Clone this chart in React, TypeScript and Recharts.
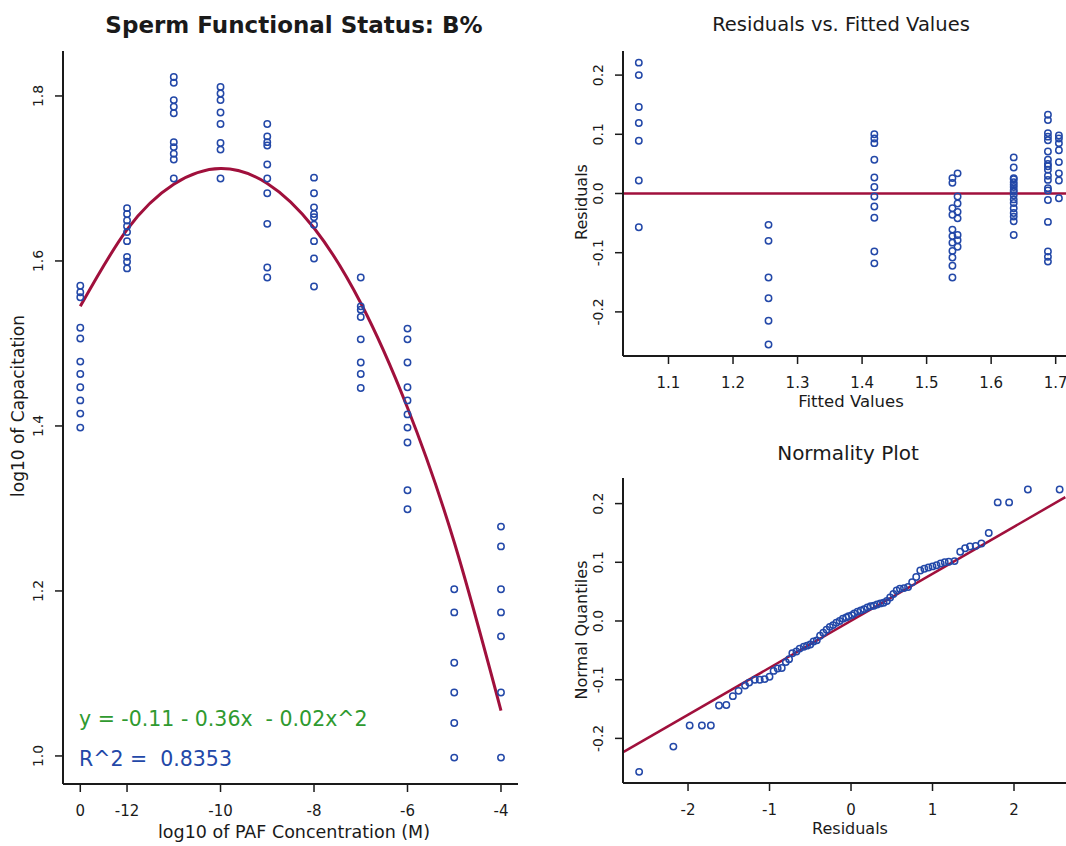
import React from "react";
import {
  ComposedChart,
  ScatterChart,
  Scatter,
  Line,
  XAxis,
  YAxis,
  ReferenceLine,
} from "recharts";

// left panel: log10 PAF level (-13 stands for the "0" control column)
const PAF_LEVELS = [-13, -12, -11, -10, -9, -8, -7, -6, -5, -4];
const PAF_TICKS = [-13, -12, -10, -8, -6, -4];

const CAP_CTRL = [1.57, 1.562, 1.556, 1.519, 1.506, 1.478, 1.463, 1.447, 1.431, 1.415, 1.398];
const CAP_M12 = [1.664, 1.657, 1.649, 1.642, 1.635, 1.624, 1.605, 1.599, 1.591];
const CAP_M11 = [1.823, 1.816, 1.795, 1.787, 1.779, 1.744, 1.738, 1.73, 1.723, 1.7];
const CAP_M10 = [1.811, 1.803, 1.795, 1.78, 1.766, 1.743, 1.735, 1.7];
const CAP_M9 = [1.766, 1.751, 1.744, 1.74, 1.717, 1.7, 1.682, 1.645, 1.592, 1.58];
const CAP_M8 = [1.701, 1.682, 1.665, 1.657, 1.653, 1.644, 1.624, 1.603, 1.569];
const CAP_M7 = [1.58, 1.545, 1.541, 1.532, 1.505, 1.477, 1.463, 1.446];
const CAP_M6 = [1.518, 1.505, 1.477, 1.447, 1.431, 1.414, 1.398, 1.38, 1.322, 1.299];
const CAP_M5 = [1.202, 1.174, 1.113, 1.077, 1.04, 0.998];
const CAP_M4 = [1.278, 1.254, 1.202, 1.174, 1.145, 1.077, 0.998];
const CAP_COLUMNS = [CAP_CTRL, CAP_M12, CAP_M11, CAP_M10, CAP_M9, CAP_M8, CAP_M7, CAP_M6, CAP_M5, CAP_M4];

// fitted quadratic, read at each level
const CURVE_Y = [1.545, 1.638, 1.693, 1.712, 1.694, 1.64, 1.549, 1.422, 1.259, 1.055];

// residuals vs fitted
const RES_FITTED = [1.054, 1.255, 1.419, 1.54, 1.548, 1.635, 1.688, 1.705];
const RES_A = [0.221, 0.2, 0.146, 0.119, 0.089, 0.022, -0.057];
const RES_B = [-0.053, -0.08, -0.142, -0.177, -0.215, -0.255];
const RES_C = [0.1, 0.093, 0.085, 0.057, 0.027, 0.011, -0.005, -0.022, -0.041, -0.098, -0.118];
const RES_D = [0.026, 0.018, -0.025, -0.036, -0.061, -0.072, -0.083, -0.097, -0.108, -0.122, -0.142];
const RES_E = [0.034, -0.005, -0.017, -0.031, -0.042, -0.07, -0.079, -0.09];
const RES_F = [0.061, 0.044, 0.026, 0.024, 0.019, 0.015, 0.011, 0.006, 0.003, -0.003, -0.01, -0.016, -0.025, -0.033, -0.039, -0.047, -0.07];
const RES_G = [0.133, 0.124, 0.102, 0.096, 0.09, 0.071, 0.057, 0.05, 0.046, 0.04, 0.03, 0.023, 0.009, 0.005, -0.011, -0.048, -0.098, -0.107, -0.115];
const RES_H = [0.098, 0.093, 0.085, 0.073, 0.053, 0.034, 0.022, -0.008];
const RES_COLUMNS = [RES_A, RES_B, RES_C, RES_D, RES_E, RES_F, RES_G, RES_H];
const RES_X_TICKS = [1.1, 1.2, 1.3, 1.4, 1.5, 1.6, 1.7];
const RES_Y_TICKS = [-0.2, -0.1, 0, 0.1, 0.2];

// normality plot
const QQ_Q = [-2.6, -2.18, -1.98, -1.83, -1.72, -1.62, -1.53, -1.45, -1.38, -1.3, -1.25, -1.18, -1.12, -1.06, -1.0, -0.95, -0.9, -0.85, -0.8, -0.76, -0.72, -0.67, -0.63, -0.58, -0.54, -0.5, -0.46, -0.42, -0.38, -0.34, -0.3, -0.26, -0.22, -0.18, -0.14, -0.1, -0.06, -0.03, 0.01, 0.04, 0.08, 0.12, 0.16, 0.2, 0.24, 0.28, 0.32, 0.36, 0.4, 0.44, 0.48, 0.52, 0.56, 0.6, 0.65, 0.7, 0.75, 0.8, 0.85, 0.9, 0.95, 1.0, 1.05, 1.1, 1.15, 1.2, 1.27, 1.34, 1.4, 1.46, 1.53, 1.6, 1.69, 1.8, 1.94, 2.17, 2.56];
const QQ_R = [-0.257, -0.214, -0.178, -0.178, -0.178, -0.144, -0.143, -0.128, -0.119, -0.11, -0.105, -0.1, -0.1, -0.099, -0.095, -0.085, -0.081, -0.08, -0.07, -0.065, -0.055, -0.052, -0.047, -0.044, -0.042, -0.04, -0.035, -0.033, -0.025, -0.02, -0.015, -0.01, -0.007, -0.003, 0.0, 0.004, 0.006, 0.008, 0.01, 0.013, 0.016, 0.018, 0.02, 0.023, 0.025, 0.026, 0.028, 0.03, 0.031, 0.034, 0.04, 0.046, 0.052, 0.055, 0.056, 0.058, 0.066, 0.075, 0.086, 0.089, 0.091, 0.093, 0.095, 0.098, 0.1, 0.101, 0.102, 0.118, 0.124, 0.127, 0.128, 0.132, 0.15, 0.202, 0.202, 0.224, 0.224];
const QQ_LINE_X = [-2.79, 2.63];
const QQ_LINE_Y = [-0.223, 0.211];
const QQ_X_TICKS = [-2, -1, 0, 1, 2];

const BLUE = "#2348a8";
const RED = "#a0103c";
const GREEN = "#2f9a2f";
const INK = "#1a1a1a";
const FONT = "'DejaVu Sans', Verdana, sans-serif";

const leftPoints = PAF_LEVELS.flatMap((x, i) => CAP_COLUMNS[i].map((y) => ({ x, y })));
const curve = PAF_LEVELS.map((x, i) => ({ x, y: CURVE_Y[i] }));
const resPoints = RES_FITTED.flatMap((x, i) => RES_COLUMNS[i].map((y) => ({ x, y })));
const qqPoints = QQ_Q.map((x, i) => ({ x, y: QQ_R[i] }));

const Ring = (p: any) => (
  <circle cx={p.cx} cy={p.cy} r={3.2} fill="none" stroke={BLUE} strokeWidth={1.5} />
);

const makeYTick = (fmt: (v: number) => string) => (p: any) => {
  const x = p.x - 10;
  return (
    <text x={x} y={p.y} transform={`rotate(-90 ${x} ${p.y})`} textAnchor="middle" fontSize={14} fontFamily={FONT} fill={INK}>
      {fmt(p.payload.value)}
    </text>
  );
};

const makeXTick = (fmt: (v: number) => string) => (p: any) => (
  <text x={p.x} y={p.y} dy={22} textAnchor="middle" fontSize={15} fontFamily={FONT} fill={INK}>
    {fmt(p.payload.value)}
  </text>
);

const fmt1 = (v: number) => v.toFixed(1);
const fmtPaf = (v: number) => (v === -13 ? "0" : String(v));
const fmtInt = (v: number) => String(v);

const axisLine = { stroke: INK, strokeWidth: 2 };
const tickLine = { stroke: INK, strokeWidth: 1.5 };

const abs = (left: number, top: number, extra: React.CSSProperties = {}): React.CSSProperties => ({
  position: "absolute",
  left,
  top,
  transform: "translate(-50%, -50%)",
  whiteSpace: "nowrap",
  fontFamily: FONT,
  color: INK,
  lineHeight: 1,
  ...extra,
});

const rot = "translate(-50%, -50%) rotate(-90deg)";

export default function App() {
  return (
    <div style={{ position: "relative", width: 1066, height: 846, overflow: "hidden", background: "#fff" }}>
      <style>{`body{margin:0}`}</style>

      {/* left: capacitation vs PAF */}
      <div style={{ position: "absolute", left: 0, top: 0 }}>
        <ComposedChart width={540} height={846} margin={{ top: 51, right: 22, bottom: 0, left: 0 }}>
          <XAxis
            dataKey="x"
            type="number"
            domain={[-13.37, -3.636]}
            ticks={PAF_TICKS}
            interval={0}
            height={62}
            tickSize={8}
            axisLine={axisLine}
            tickLine={tickLine}
            tick={makeXTick(fmtPaf)}
            allowDataOverflow
          />
          <XAxis xAxisId="top" orientation="top" type="number" domain={[0, 1]} height={0} tick={false} tickLine={false} axisLine={axisLine} />
          <YAxis
            dataKey="y"
            type="number"
            domain={[0.966, 1.8545]}
            ticks={[1.0, 1.2, 1.4, 1.6, 1.8]}
            interval={0}
            width={63}
            tickSize={8}
            axisLine={axisLine}
            tickLine={tickLine}
            tick={makeYTick(fmt1)}
            allowDataOverflow
          />
          <YAxis yAxisId="right" orientation="right" type="number" domain={[0, 1]} width={0} tick={false} tickLine={false} axisLine={axisLine} />
          <Scatter data={leftPoints} dataKey="y" shape={Ring} isAnimationActive={false} />
          <Line data={curve} dataKey="y" type="natural" stroke={RED} strokeWidth={3} dot={false} isAnimationActive={false} />
        </ComposedChart>
      </div>

      {/* top right: residuals vs fitted */}
      <div style={{ position: "absolute", left: 540, top: 0 }}>
        <ScatterChart width={526} height={430} margin={{ top: 51, right: 0, bottom: 0, left: 0 }}>
          <XAxis
            dataKey="x"
            type="number"
            domain={[1.0295, 1.716]}
            ticks={RES_X_TICKS}
            interval={0}
            height={74}
            tickSize={8}
            axisLine={axisLine}
            tickLine={tickLine}
            tick={makeXTick(fmt1)}
            allowDataOverflow
          />
          <XAxis xAxisId="top" orientation="top" type="number" domain={[0, 1]} height={0} tick={false} tickLine={false} axisLine={axisLine} />
          <YAxis
            dataKey="y"
            type="number"
            domain={[-0.2745, 0.2407]}
            ticks={RES_Y_TICKS}
            interval={0}
            width={83}
            tickSize={8}
            axisLine={axisLine}
            tickLine={tickLine}
            tick={makeYTick(fmt1)}
            allowDataOverflow
          />
          <ReferenceLine y={0} stroke={RED} strokeWidth={2.5} />
          <Scatter data={resPoints} shape={Ring} isAnimationActive={false} />
        </ScatterChart>
      </div>

      {/* bottom right: normality plot */}
      <div style={{ position: "absolute", left: 540, top: 430 }}>
        <ScatterChart width={526} height={416} margin={{ top: 48, right: 0, bottom: 0, left: 0 }}>
          <XAxis
            dataKey="x"
            type="number"
            domain={[-2.798, 2.638]}
            ticks={QQ_X_TICKS}
            interval={0}
            height={63}
            tickSize={8}
            axisLine={axisLine}
            tickLine={tickLine}
            tick={makeXTick(fmtInt)}
            allowDataOverflow
          />
          <XAxis xAxisId="top" orientation="top" type="number" domain={[0, 1]} height={0} tick={false} tickLine={false} axisLine={axisLine} />
          <YAxis
            dataKey="y"
            type="number"
            domain={[-0.276, 0.2436]}
            ticks={RES_Y_TICKS}
            interval={0}
            width={83}
            tickSize={8}
            axisLine={axisLine}
            tickLine={tickLine}
            tick={makeYTick(fmt1)}
            allowDataOverflow
          />
          <ReferenceLine
            segment={[
              { x: QQ_LINE_X[0], y: QQ_LINE_Y[0] },
              { x: QQ_LINE_X[1], y: QQ_LINE_Y[1] },
            ]}
            stroke={RED}
            strokeWidth={2.5}
            ifOverflow="visible"
          />
          <Scatter data={qqPoints} shape={Ring} isAnimationActive={false} />
        </ScatterChart>
      </div>

      {/* titles and axis labels */}
      <div style={abs(294, 25, { fontSize: 23, fontWeight: 600 })}>Sperm Functional Status: B%</div>
      <div style={abs(18, 406, { fontSize: 17, transform: rot })}>log10 of Capacitation</div>
      <div style={abs(294, 833, { fontSize: 17.5 })}>log10 of PAF Concentration (M)</div>
      <div style={abs(79, 719, { fontSize: 20.5, color: GREEN, transform: "translate(0, -50%)" })}>y = -0.11 - 0.36x&nbsp; - 0.02x^2</div>
      <div style={abs(79, 759, { fontSize: 20.5, color: BLUE, transform: "translate(0, -50%)" })}>R^2 =&nbsp; 0.8353</div>

      <div style={abs(841, 25, { fontSize: 19.5 })}>Residuals vs. Fitted Values</div>
      <div style={abs(582, 202, { fontSize: 16, transform: rot })}>Residuals</div>
      <div style={abs(851, 402, { fontSize: 16.5 })}>Fitted Values</div>

      <div style={abs(848, 453, { fontSize: 20 })}>Normality Plot</div>
      <div style={abs(582, 630, { fontSize: 16, transform: rot })}>Normal Quantiles</div>
      <div style={abs(850, 829, { fontSize: 16 })}>Residuals</div>
    </div>
  );
}
